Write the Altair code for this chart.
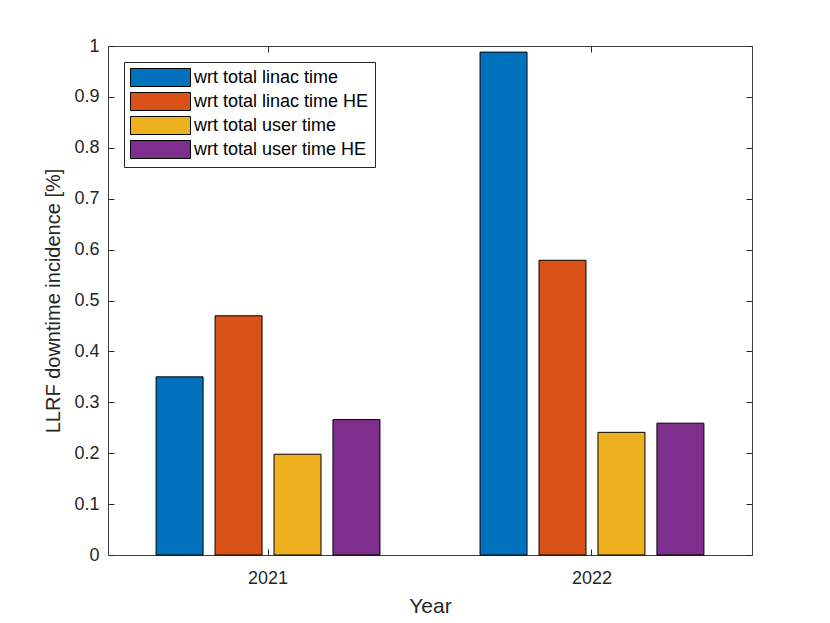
import altair as alt
import pandas as pd

years = ["2021", "2022"]
series = ["wrt total linac time", "wrt total linac time HE",
          "wrt total user time", "wrt total user time HE"]
vals_2021 = [0.350, 0.470, 0.198, 0.266]
vals_2022 = [0.988, 0.579, 0.241, 0.259]
colors = ["#0072BD", "#D95319", "#EDB120", "#7E2F8E"]
y_ticks = [0, 0.1, 0.2, 0.3, 0.4, 0.5, 0.6, 0.7, 0.8, 0.9, 1.0]

rows = []
for yr, vals in zip(years, [vals_2021, vals_2022]):
    for s, v in zip(series, vals):
        rows.append({"Year": yr, "Series": s, "Value": v})
df = pd.DataFrame(rows)

FONT = "Liberation Sans"
TXT = "#262626"

x_scale = alt.Scale(domain=years, paddingInner=0.272, paddingOuter=0.13)
y_scale = alt.Scale(domain=[0, 1], nice=False, zero=True)

bars = alt.Chart(df).mark_bar(stroke="black", strokeWidth=1).encode(
    x=alt.X("Year:N", scale=x_scale,
            axis=alt.Axis(orient="bottom", title="Year", labelAngle=0, offset=-6,
                          tickSize=6, domain=False, labelPadding=14, titlePadding=8,
                          titleFontSize=21)),
    xOffset=alt.XOffset("Series:N", sort=series,
                        scale=alt.Scale(paddingInner=0.2034, paddingOuter=0.1017)),
    y=alt.Y("Value:Q", scale=y_scale,
            axis=alt.Axis(orient="left", values=y_ticks, format="~g", offset=-6,
                          tickSize=6, domain=False, labelPadding=9, titlePadding=10,
                          title="LLRF downtime incidence [%]")),
    color=alt.Color("Series:N", sort=series,
                    scale=alt.Scale(domain=series, range=colors),
                    legend=alt.Legend(
                        title=None, orient="none", legendX=16, legendY=16,
                        direction="vertical",
                        symbolType="M-1,-1 L5.667,-1 L5.667,1 L-1,1 Z",
                        symbolSize=324, symbolStrokeColor="black",
                        symbolStrokeWidth=1, symbolOpacity=1,
                        labelOffset=45, rowPadding=1, padding=6,
                        strokeColor="#262626", fillColor="white",
                        labelFont=FONT, labelFontSize=18, labelColor="black",
                        labelLimit=400)),
)

frame = alt.Chart(df).mark_point(opacity=0).encode(
    x=alt.X("Year:N", scale=x_scale,
            axis=alt.Axis(orient="top", labels=False, title=None, offset=-6,
                          tickSize=6, domain=False)),
    y=alt.Y("Value:Q", scale=y_scale,
            axis=alt.Axis(orient="right", values=y_ticks, labels=False, title=None,
                          offset=-6, tickSize=6, domain=False)),
)

chart = alt.layer(bars, frame).resolve_axis(
    x="independent", y="independent"
).properties(
    width=644, height=509,
    autosize=alt.AutoSizeParams(type="none"),
    padding={"left": 100, "top": 38, "right": 70, "bottom": 60},
).configure_axis(
    labelFont=FONT, titleFont=FONT, labelColor=TXT, titleColor=TXT,
    tickColor=TXT, labelFontSize=18, titleFontSize=20, titleFontWeight="normal",
    grid=False,
).configure_view(stroke="#404040", strokeWidth=1)

chart.save("out.html", embed_options={"renderer": "svg", "actions": False})
